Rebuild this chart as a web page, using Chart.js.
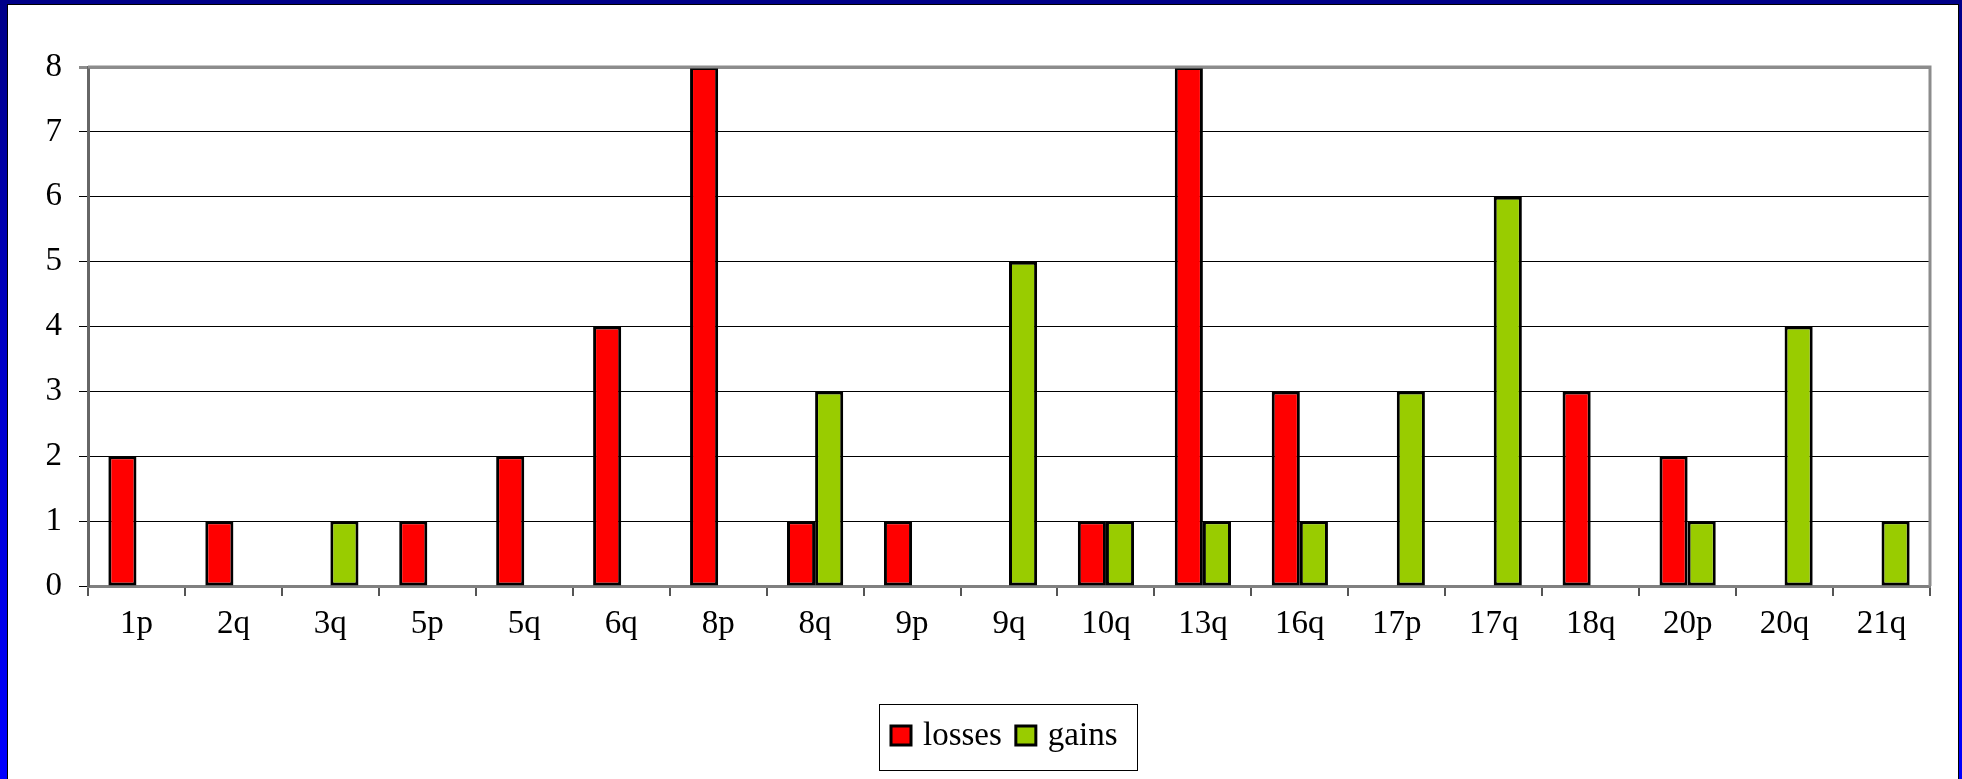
<!DOCTYPE html>
<html>
<head>
<meta charset="utf-8">
<script src="https://cdn.jsdelivr.net/npm/chart.js@4"></script>
<style>
  html, body { margin: 0; padding: 0; }
  body {
    width: 1962px; height: 779px; overflow: hidden; position: relative;
    background: linear-gradient(to bottom, #000088 0%, #0000cc 50%, #0000ff 100%);
  }
  #panel {
    position: absolute; left: 7px; top: 4px; width: 1950px; height: 800px;
    background: #ffffff; border: 1px solid #000000; border-bottom: none;
  }
  #wrap { position: absolute; left: 0; top: 0; width: 1962px; height: 779px; }
</style>
</head>
<body>
<div id="panel"></div>
<div id="wrap"><canvas id="chart" width="1962" height="779"></canvas></div>
<script>
const categories = ['1p','2q','3q','5p','5q','6q','8p','8q','9p','9q','10q','13q','16q','17p','17q','18q','20p','20q','21q'];
const losses = [2, 1, 0, 1, 2, 4, 8, 1, 1, 0, 1, 8, 3, 0, 0, 3, 2, 0, 0];
const gains  = [0, 0, 1, 0, 0, 0, 0, 3, 0, 5, 1, 1, 1, 3, 6, 0, 1, 4, 1];
const seriesNames = ['losses', 'gains'];
const seriesColors = ['#ff0000', '#99cc00'];
const yTicks = [0, 1, 2, 3, 4, 5, 6, 7, 8];

const FONT = '"Liberation Serif", "Times New Roman", serif';

// Plot frame (top and right edges) and the boxed legend under the plot
const framePlugin = {
  id: 'frame',
  afterDatasetsDraw(chart) {
    const { ctx, chartArea: a } = chart;
    ctx.save();
    ctx.strokeStyle = '#8c8c8c';
    ctx.lineWidth = 3;
    ctx.beginPath();
    ctx.moveTo(a.left, a.top);
    ctx.lineTo(a.right, a.top);
    ctx.lineTo(a.right, a.bottom);
    ctx.stroke();
    ctx.restore();
  },
  afterDraw(chart) {
    const { ctx } = chart;
    const box = { x: 879, y: 704, w: 258, h: 66 };
    ctx.save();
    ctx.fillStyle = '#ffffff';
    ctx.fillRect(box.x, box.y, box.w, box.h);
    ctx.strokeStyle = '#000000';
    ctx.lineWidth = 1;
    ctx.strokeRect(box.x + 0.5, box.y + 0.5, box.w, box.h);
    ctx.font = '33px ' + FONT;
    ctx.textBaseline = 'alphabetic';
    ctx.textAlign = 'left';
    let x = 891;
    chart.data.datasets.forEach((ds, i) => {
      ctx.fillStyle = ds.backgroundColor;
      ctx.fillRect(x, 726, 20, 19);
      ctx.strokeStyle = '#000000';
      ctx.lineWidth = 3;
      ctx.strokeRect(x, 726, 20, 19);
      ctx.fillStyle = '#000000';
      ctx.fillText(ds.label, x + 32, 745);
      x += 32 + ctx.measureText(ds.label).width + 14;
    });
    ctx.restore();
  }
};

const zeroless = (ctx) => (ctx.raw === 0 ? 0 : 3);

new Chart(document.getElementById('chart'), {
  type: 'bar',
  data: {
    labels: categories,
    datasets: [
      { label: seriesNames[0], data: losses, backgroundColor: seriesColors[0],
        borderColor: '#000000', borderWidth: zeroless, borderSkipped: false },
      { label: seriesNames[1], data: gains, backgroundColor: seriesColors[1],
        borderColor: '#000000', borderWidth: zeroless, borderSkipped: false }
    ]
  },
  options: {
    responsive: false,
    animation: false,
    maintainAspectRatio: false,
    layout: { padding: { left: 0, right: 32, top: 67, bottom: 0 } },
    datasets: { bar: { categoryPercentage: 0.58, barPercentage: 1.0 } },
    plugins: { legend: { display: false }, tooltip: { enabled: false } },
    scales: {
      x: {
        grid: { display: true, drawOnChartArea: false, drawTicks: true, tickLength: 10,
                color: '#555555', lineWidth: 2, offset: true },
        border: { display: true, color: '#808080', width: 3 },
        ticks: { color: '#000000', font: { family: FONT, size: 33 }, padding: 9, maxRotation: 0 },
        afterFit(scale) { scale.height = 779 - 586; }
      },
      y: {
        min: 0, max: 8,
        afterBuildTicks(scale) { scale.ticks = yTicks.map(v => ({ value: v })); },
        grid: {
          color: (c) => (c.tick && c.tick.value === 8 ? '#8c8c8c' : '#000000'),
          lineWidth: (c) => (c.tick && c.tick.value === 8 ? 3 : 1),
          tickLength: 9
        },
        border: { display: true, color: '#666666', width: 3 },
        ticks: { color: '#000000', font: { family: FONT, size: 33 }, padding: 17 },
        afterFit(scale) { scale.width = 88; }
      }
    }
  },
  plugins: [framePlugin]
});
</script>
</body>
</html>
